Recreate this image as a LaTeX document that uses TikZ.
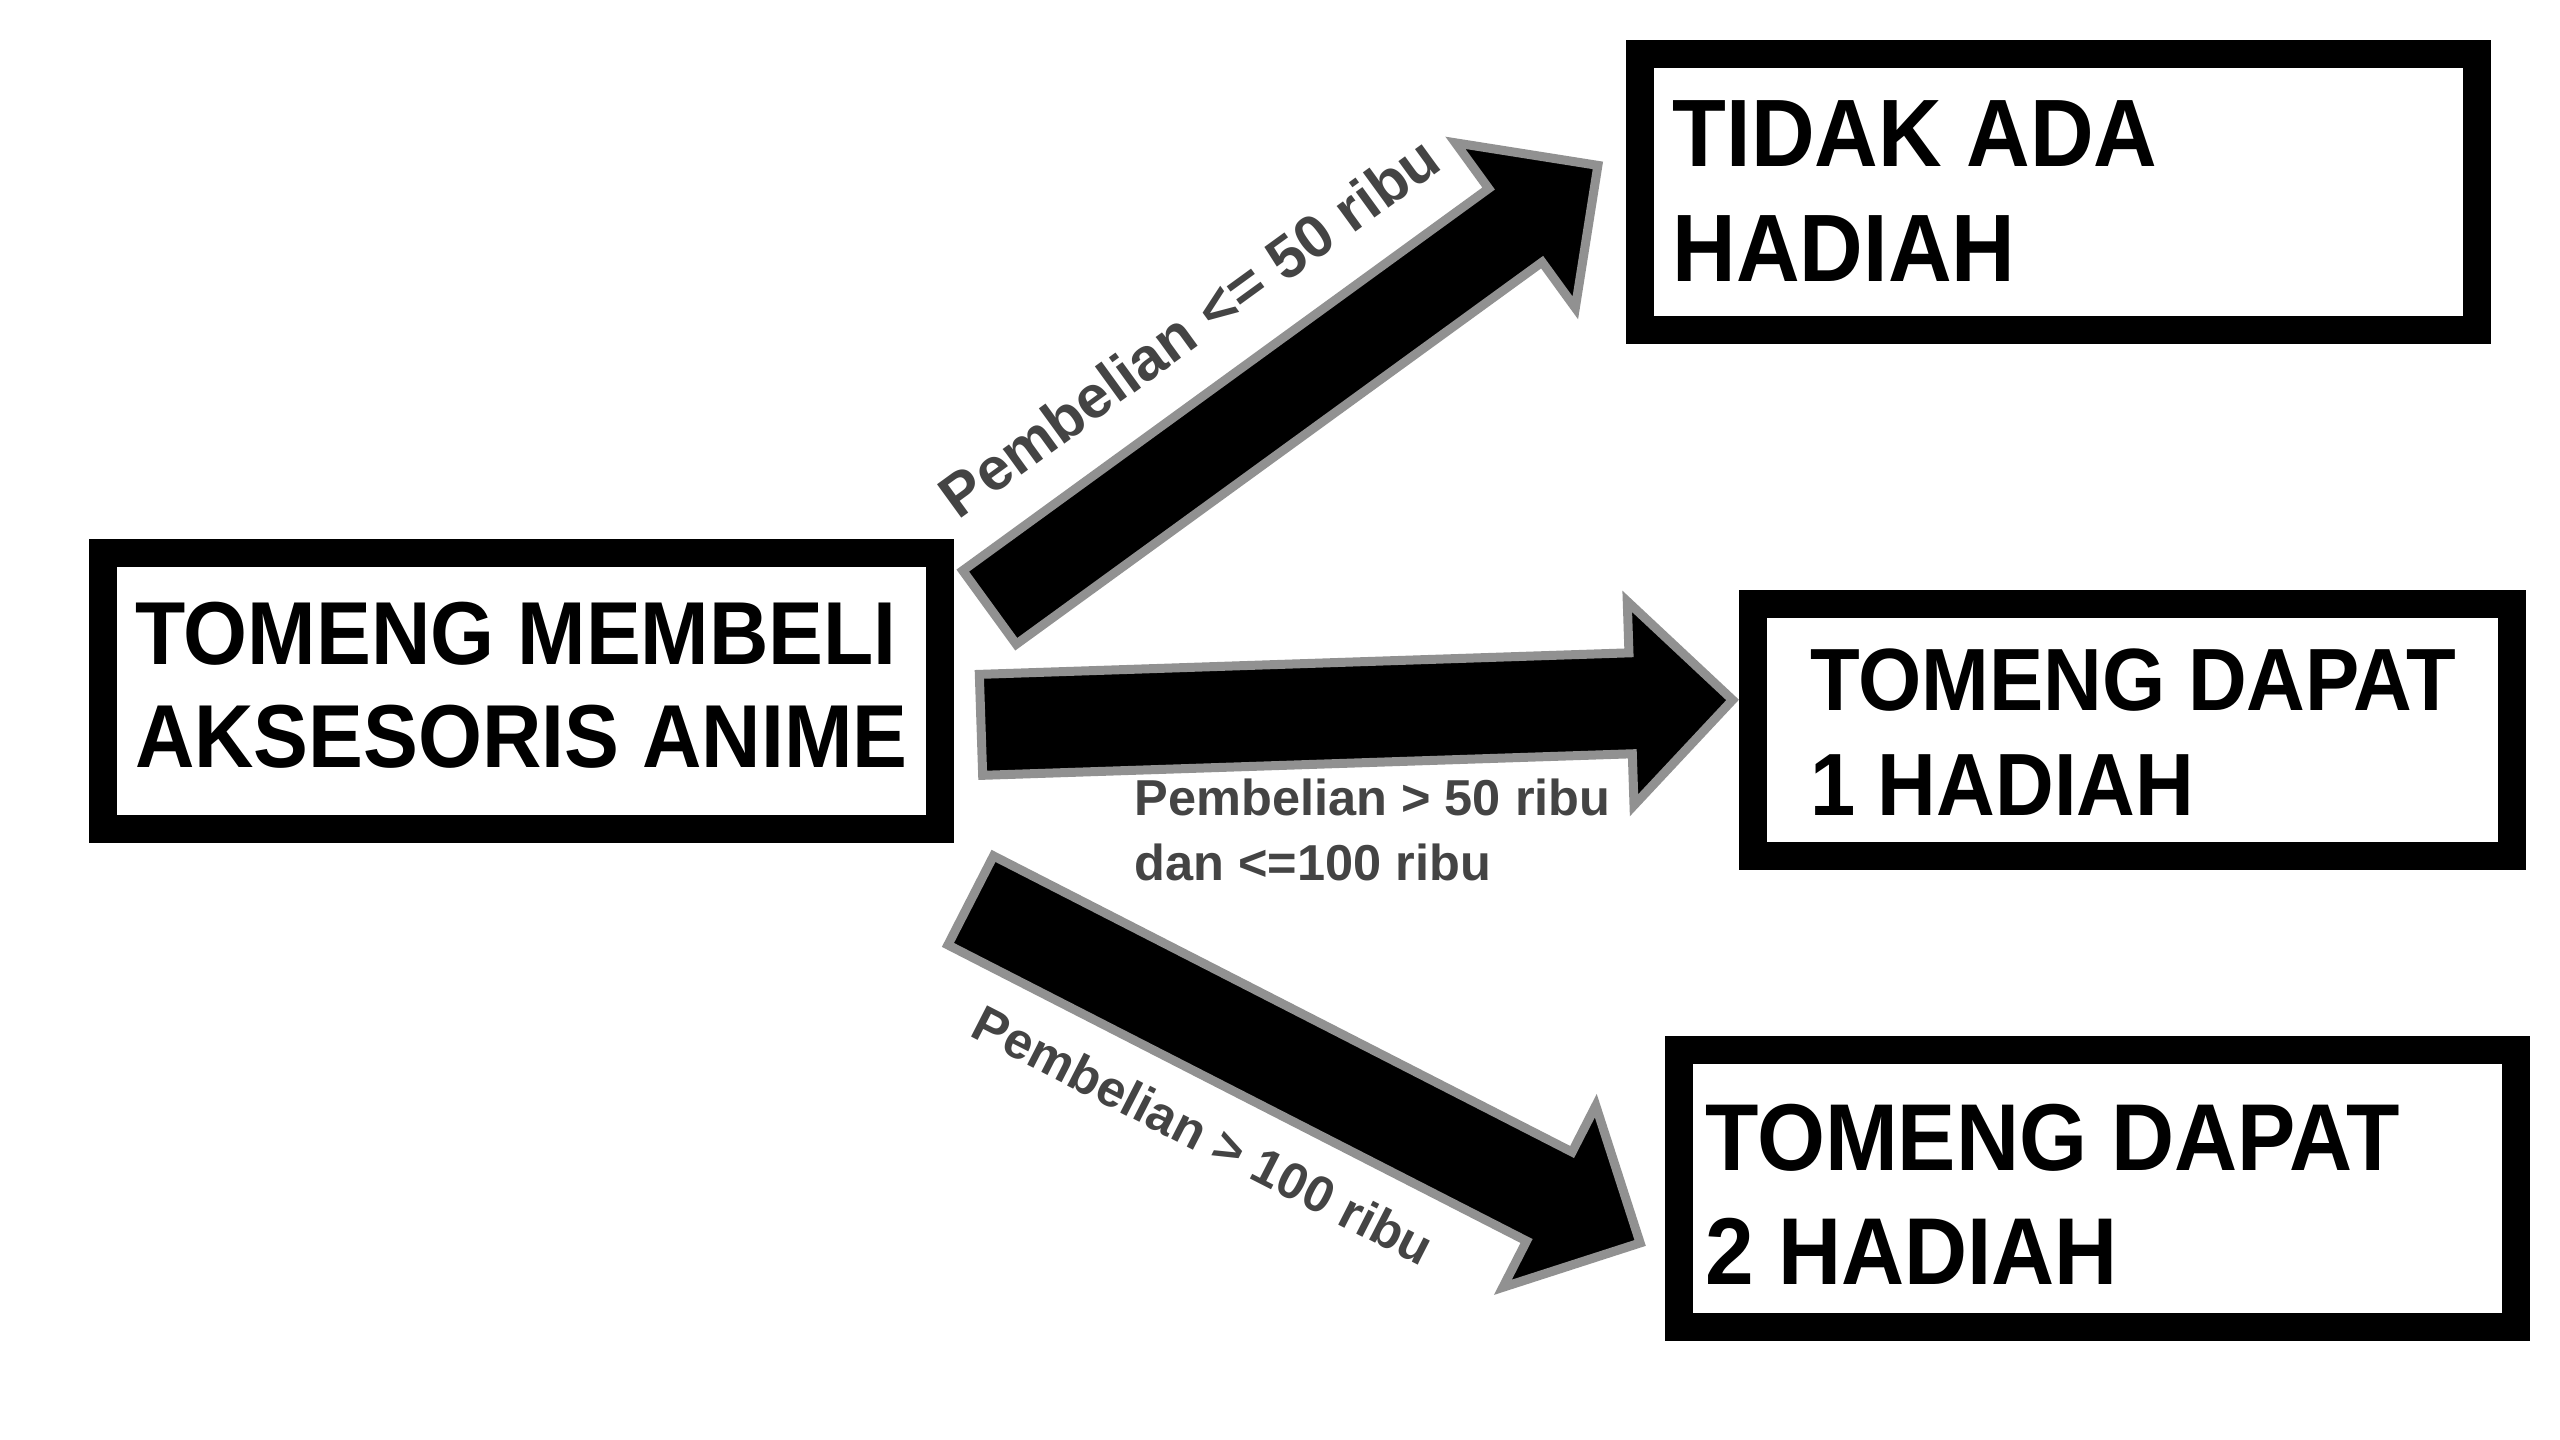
\documentclass[tikz,border=0pt]{standalone}
\usepackage{fontspec}
\newfontfamily\boxfont[FakeStretch=0.92]{Liberation Sans}
\newfontfamily\labfont{Liberation Sans}
\definecolor{arrowgray}{RGB}{145,145,145}
\definecolor{labelgray}{RGB}{68,68,68}
\tikzset{
  box/.style={draw=black, line width=28pt, fill=white, rectangle, inner sep=0pt},
  boxtext/.style={anchor=north west, inner sep=0pt, align=left, text=black},
  blockarrow/.style={fill=black, draw=arrowgray, line width=9pt, line join=miter},
  lab/.style={inner sep=0pt, text=labelgray},
}
\begin{document}
\begin{tikzpicture}[x=1pt, y=-1pt]
\fill[white] (0,0) rectangle (2560,1440);
\useasboundingbox (0,0) rectangle (2560,1440);

% block arrows (connectors)
\coordinate (a1) at (989.5,607.4);
\coordinate (a2) at (981,724.85);
\coordinate (a3) at (970.7,900.4);
\begin{scope}[shift={(a1)}, rotate=36]
  \draw[blockarrow] (0,45.5) -- (650,45.5) -- (650,102) -- (752,0) -- (650,-102) -- (650,-45.5) -- (0,-45.5) -- cycle;
\end{scope}
\begin{scope}[shift={(a2)}, rotate=1.9]
  \draw[blockarrow] (0,50.5) -- (650,50.5) -- (650,102) -- (752,0) -- (650,-102) -- (650,-50.5) -- (0,-50.5) -- cycle;
\end{scope}
\begin{scope}[shift={(a3)}, rotate=-27.1]
  \draw[blockarrow] (0,50) -- (650,50) -- (650,102) -- (752,0) -- (650,-102) -- (650,-50) -- (0,-50) -- cycle;
\end{scope}

% boxes
\node[box, minimum width=837pt, minimum height=276pt] (src) at (521.2,690.8) {};
\node[box, minimum width=837pt, minimum height=276pt] (none) at (2058.4,192.4) {};
\node[box, minimum width=759pt, minimum height=252pt] (one) at (2132.7,729.5) {};
\node[box, minimum width=837pt, minimum height=277pt] (two) at (2097.2,1188.9) {};

% box texts
\node[boxtext, font=\boxfont\bfseries\fontsize{89.4}{103.3}\selectfont] (srct) at (135,601.6) {TOMENG MEMBELI\\AKSESORIS ANIME};
\node[boxtext, font=\boxfont\bfseries\fontsize{95.8}{114.7}\selectfont] (nonet) at (1672.5,100.7) {TIDAK ADA\\HADIAH};
\node[boxtext, font=\boxfont\bfseries\fontsize{88.4}{104.4}\selectfont] (onet) at (1810,649) {TOMENG DAPAT\\1 HADIAH};
\node[boxtext, font=\boxfont\bfseries\fontsize{95}{114}\selectfont] (twot) at (1705,1104.1) {TOMENG DAPAT\\2 HADIAH};

% labels
\node[lab, font=\labfont\bfseries\fontsize{60}{72}\selectfont, rotate=36, anchor=base west] (l1) at (958.6,520.6) {Pembelian <= 50 ribu};
\node[lab, font=\labfont\bfseries\fontsize{50.5}{65}\selectfont, anchor=north west, align=left] (l2) at (1134.5,778.8) {Pembelian > 50 ribu\\dan <=100 ribu};
\node[lab, font=\labfont\bfseries\fontsize{51}{61}\selectfont, rotate=-27.1, anchor=base west] (l3) at (968.6,1035.1) {Pembelian > 100 ribu};
\end{tikzpicture}
\end{document}
